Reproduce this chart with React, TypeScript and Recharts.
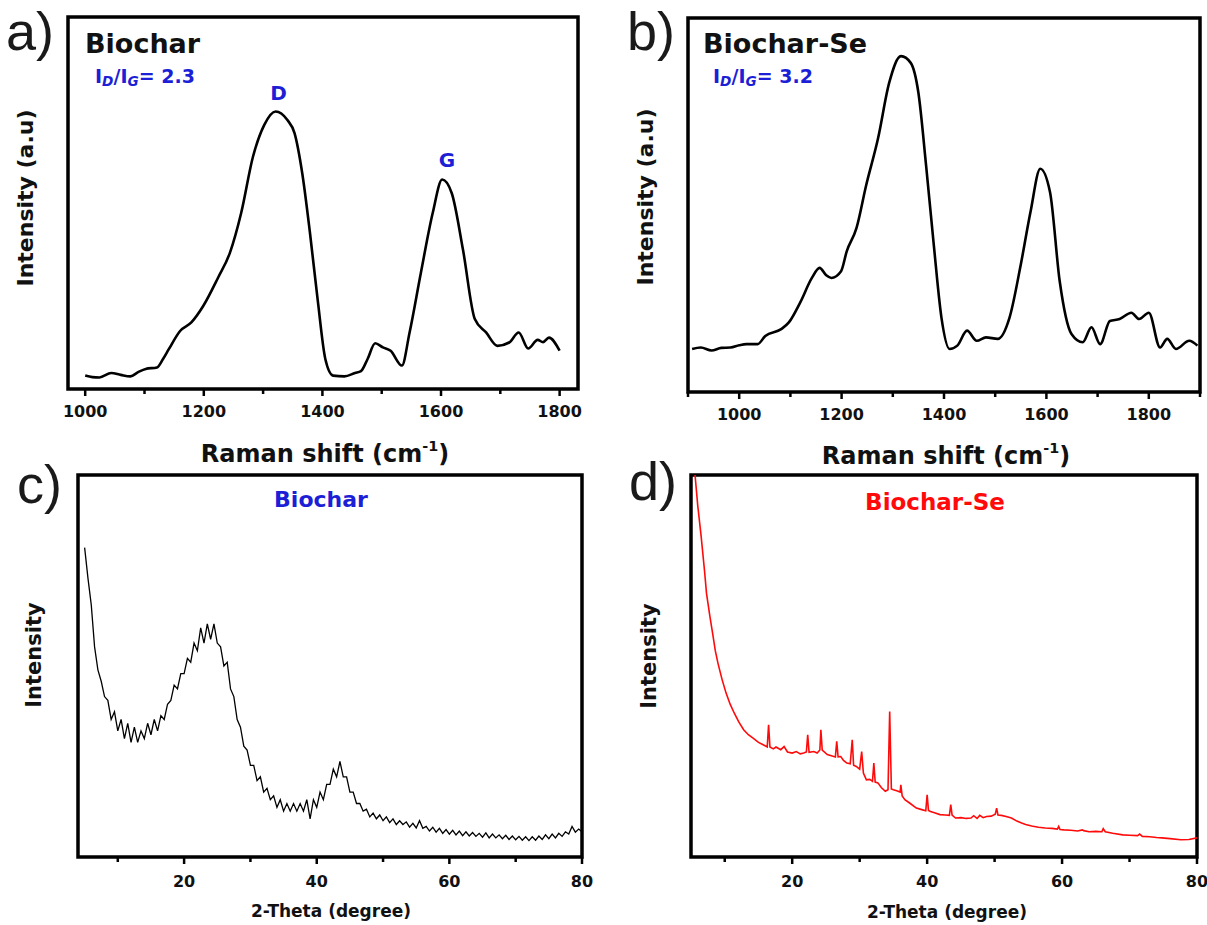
import React from 'react'
import { LineChart, Line, XAxis, YAxis, ReferenceArea, ReferenceDot } from 'recharts'

// a) Raman, Biochar: [shift cm-1, intensity % of frame height]
const ramanBiochar: [number, number][] = [
  [1000, 3.6], [1012, 3.2], [1024, 3.1], [1044, 4.3], [1060, 3.8], [1076, 3.4],
  [1090, 4.6], [1102, 5.4], [1121, 5.8], [1131, 8.0], [1141, 10.7], [1160, 15.6],
  [1179, 17.9], [1199, 22.3], [1224, 29.9], [1244, 36.6], [1263, 47.3], [1283, 62.5],
  [1302, 71.0], [1321, 74.6], [1341, 72.3], [1353, 68.8], [1366, 58.0], [1379, 42.0],
  [1392, 24.0], [1405, 8.0], [1418, 3.6], [1437, 3.4], [1455, 4.3], [1465, 4.8],
  [1476, 8.0], [1489, 12.3], [1502, 11.2], [1515, 10.3], [1534, 6.3], [1547, 15.2],
  [1566, 31.2], [1586, 47.3], [1602, 56.3], [1618, 52.7], [1637, 37.5], [1657, 18.8],
  [1676, 15.2], [1695, 11.6], [1715, 12.5], [1731, 15.2], [1747, 10.9], [1763, 13.2],
  [1772, 12.6], [1782, 13.8], [1800, 10.3],
]

// b) Raman, Biochar-Se
const ramanBiocharSe: [number, number][] = [
  [908, 11.5], [925, 11.9], [946, 11.1], [965, 11.8], [983, 11.9], [1000, 12.5],
  [1014, 12.8], [1036, 12.8], [1051, 15.0], [1082, 16.8], [1097, 18.6], [1119, 23.9],
  [1142, 30.5], [1157, 33.2], [1170, 31.2], [1180, 30.5], [1199, 32.3], [1210, 37.6],
  [1229, 43.8], [1248, 55.3], [1271, 67.7], [1293, 82.7], [1316, 89.8], [1335, 88.0],
  [1350, 80.0], [1365, 60.6], [1380, 39.4], [1395, 19.9], [1411, 11.5], [1426, 12.4],
  [1445, 16.4], [1464, 13.7], [1482, 14.6], [1505, 14.2], [1528, 19.9], [1550, 34.1],
  [1569, 48.2], [1588, 59.7], [1607, 53.5], [1626, 29.6], [1649, 15.5], [1671, 13.3],
  [1688, 17.3], [1705, 12.8], [1724, 19.0], [1743, 19.5], [1766, 21.2], [1781, 19.5],
  [1800, 21.2], [1822, 11.9], [1836, 14.2], [1853, 11.5], [1879, 13.7], [1895, 12.4],
]

// c) XRD, Biochar: sampled every 0.5 deg from 5 deg
const xrdBiocharStart = 5
const xrdBiocharStep = 0.5
const xrdBiochar = [
  81, 73, 66, 55, 49, 46, 42, 41, 36, 38,
  33, 36, 31, 35, 30, 34, 30, 33, 31, 35,
  32, 36, 33, 37, 36, 40, 41, 45, 44, 48,
  48, 52, 51, 56, 54, 60, 56, 61, 57, 61,
  56, 55, 50, 51, 44, 42, 36, 34, 29, 28,
  24, 24, 20, 21, 17, 18, 15, 16, 13, 15,
  12, 14, 12, 14, 12, 14, 12, 15, 10, 15,
  13, 17, 15, 19, 19, 23, 21, 25, 21, 21,
  17, 17, 14, 14, 12, 12.5, 10.5, 11.5, 10, 11,
  9.5, 10.5, 9, 10, 8.5, 9.5, 8.5, 9.2, 7.8, 8.8,
  7.6, 9.5, 7.5, 8, 6.8, 7.8, 6.5, 7.5, 6.2, 7.2,
  6, 7, 5.8, 6.8, 5.6, 6.6, 5.5, 6.4, 5.4, 6.2,
  5.2, 6.3, 5, 6, 5, 5.8, 4.8, 5.7, 4.6, 5.5,
  4.5, 5.4, 4.4, 5.3, 4.3, 5.3, 4.4, 5.5, 4.6, 5.8,
  4.8, 6, 5, 6.2, 5.4, 6.6, 6, 8, 6.5, 7.3,
  6.6,
]

// d) XRD, Biochar-Se: [2theta, intensity]
const xrdBiocharSe: [number, number][] = [
  [5.6, 100], [6.0, 92], [6.5, 84], [7.0, 75], [7.3, 69], [7.8, 63], [8.2, 58.6],
  [8.6, 54], [9.0, 50.7], [9.6, 46.5], [10.2, 42.9], [10.8, 40], [11.4, 37.7],
  [12.1, 35.3], [12.8, 33.3], [13.5, 32.0], [14.2, 31.1], [15.0, 30], [15.7, 29.4],
  [16.3, 28.8], [16.5, 34.6], [16.7, 28.8], [17.2, 28.3], [17.6, 28.8], [18.3, 28.1],
  [18.8, 28.9], [19.3, 27.5], [20.0, 27.2], [20.6, 27.6], [21.2, 27.0], [21.7, 27.2],
  [22.1, 27.5], [22.3, 32], [22.5, 27.4], [23.2, 27.6], [23.7, 27.2], [24.1, 28.0],
  [24.25, 33.3], [24.45, 28], [25.2, 26.8], [25.8, 26.5], [26.4, 26.2], [26.6, 30.3],
  [26.8, 26.2], [27.2, 26.3], [27.6, 25.3], [28.1, 24.6], [28.6, 24.4], [28.9, 30.7],
  [29.1, 24], [29.5, 23.7], [30.0, 23.0], [30.3, 27.6], [30.55, 22.0], [31.0, 20.2],
  [31.5, 20.3], [31.9, 19.8], [32.1, 24.6], [32.3, 19.6], [32.7, 19.4], [33.2, 18.2],
  [33.8, 17.2], [34.2, 17.6], [34.45, 38.1], [34.7, 17.8], [35.0, 17.6], [35.6, 17.3],
  [36.0, 17.0], [36.1, 18.9], [36.3, 16.0], [36.7, 15], [37.5, 14], [38.4, 12.8],
  [39.2, 12.4], [39.8, 12.1], [40.0, 16.3], [40.2, 12.2], [40.5, 11.9], [41.2, 11.5],
  [41.9, 11.1], [42.7, 11], [43.3, 10.9], [43.5, 13.7], [43.7, 11], [44.2, 10.2],
  [45.0, 10.3], [45.8, 10.1], [46.5, 10.2], [46.9, 10.8], [47.4, 10.1], [47.8, 10.9],
  [48.3, 10.3], [48.8, 10.6], [49.5, 10.7], [50.1, 11.2], [50.3, 12.8], [50.5, 11.0],
  [51.0, 10.9], [51.7, 10.6], [52.5, 10.2], [53.3, 9.4], [54.0, 8.9], [54.6, 8.5],
  [55.5, 8.1], [56.5, 7.8], [57.5, 7.6], [58.5, 7.5], [59.3, 7.3], [59.5, 8.0],
  [59.7, 7.2], [60.3, 7.1], [61.3, 7.0], [62.3, 6.8], [63.0, 7.1], [63.2, 6.9],
  [64.0, 6.6], [65.0, 6.7], [65.9, 6.6], [66.1, 7.4], [66.4, 6.6], [67.5, 6.2],
  [69.0, 5.8], [70.0, 5.7], [71.2, 5.6], [71.5, 6.0], [71.9, 5.4], [73.0, 5.3],
  [74.0, 5.1], [74.8, 5.0], [76.0, 4.8], [77.6, 4.5], [78.8, 4.6], [80.0, 5.0],
]

const ramanTicksA = [1000, 1100, 1200, 1300, 1400, 1500, 1600, 1700, 1800]
const ramanTicksB = [900, 1000, 1100, 1200, 1300, 1400, 1500, 1600, 1700, 1800, 1900]
const thetaTicks = [10, 20, 30, 40, 50, 60, 70, 80]

const BOLD = '"DejaVu Sans", "Liberation Sans", sans-serif'
const PLAIN = '"Liberation Sans", Arial, sans-serif'
const BLUE = '#1c1fd6'
const RED = '#ff0a0a'
const AXIS_H = 30

const toRows = (pairs: [number, number][]) => pairs.map(([x, y]) => ({ x, y }))

const makeTick = (majorStep: number, fontSize: number, labelDy: number) => (props: any) => {
  const { x, y, payload } = props
  const major = payload.value % majorStep === 0
  return (
    <g>
      <line x1={x} x2={x} y1={y} y2={y + (major ? 7 : 5)} stroke="#000" strokeWidth={2.5} />
      {major && (
        <text x={x} y={y + labelDy} textAnchor="middle" fontFamily={BOLD} fontWeight={700}
          fontSize={fontSize} fill="#111">{payload.value}</text>
      )}
    </g>
  )
}

interface PanelProps {
  left: number
  top: number
  width: number
  height: number
  box: { l: number; t: number; r: number; b: number }
  data: { x: number; y: number }[]
  domain: [number, number]
  ticks: number[]
  majorStep: number
  labelDy: number
  stroke: string
  strokeWidth: number
  curve: 'monotone' | 'linear'
  children?: React.ReactNode
}

const Panel = (p: PanelProps) => (
  <div style={{ position: 'absolute', left: p.left, top: p.top }}>
    <LineChart
      width={p.width}
      height={p.height}
      data={p.data}
      margin={{
        left: p.box.l - p.left,
        top: p.box.t - p.top,
        right: p.left + p.width - p.box.r,
        bottom: p.top + p.height - p.box.b - AXIS_H,
      }}
    >
      <XAxis type="number" dataKey="x" domain={p.domain} allowDataOverflow ticks={p.ticks}
        interval={0} height={AXIS_H} tickSize={0} tickMargin={0} axisLine={false} tickLine={false}
        tick={makeTick(p.majorStep, 16, p.labelDy)} />
      <YAxis type="number" domain={[0, 100]} allowDataOverflow hide />
      <Line type={p.curve} dataKey="y" stroke={p.stroke} strokeWidth={p.strokeWidth}
        dot={false} isAnimationActive={false} />
      <ReferenceArea x1={p.domain[0]} x2={p.domain[1]} y1={0} y2={100} fill="none"
        fillOpacity={0} stroke="#000" strokeWidth={3.5} ifOverflow="visible" />
      {p.children}
    </LineChart>
  </div>
)

const Txt = ({ x, y, size, color = '#111', weight = 700, font = BOLD, center = false, children }: any) => (
  <div style={{
    position: 'absolute', left: x, top: y - 0.846 * size, fontSize: size, lineHeight: 1,
    fontFamily: font, fontWeight: weight, color, whiteSpace: 'nowrap',
    transform: center ? 'translateX(-50%)' : undefined,
  }}>{children}</div>
)

const VLabel = ({ cx, cy, size, children }: any) => (
  <div style={{
    position: 'absolute', left: cx, top: cy, fontSize: size, lineHeight: 1,
    fontFamily: BOLD, fontWeight: 700, color: '#111', whiteSpace: 'nowrap',
    transform: 'translate(-50%, -50%) rotate(-90deg)',
  }}>{children}</div>
)

const Ratio = ({ value }: { value: string }) => (
  <span>
    I<sub style={{ fontSize: '0.72em', fontStyle: 'italic', verticalAlign: '-0.25em' }}>D</sub>/I
    <sub style={{ fontSize: '0.72em', fontStyle: 'italic', verticalAlign: '-0.25em' }}>G</sub>= {value}
  </span>
)

const CmLabel = () => (
  <span>Raman shift (cm<sup style={{ fontSize: '0.6em', verticalAlign: '0.75em' }}>-1</sup>)</span>
)

const peakLabel = (value: string) => ({
  value, position: 'center' as const, fill: BLUE, fontSize: 20, fontWeight: 700, fontFamily: BOLD,
})

export default function App() {
  const dataC = xrdBiochar.map((y, i) => ({ x: xrdBiocharStart + i * xrdBiocharStep, y }))
  return (
    <div style={{ position: 'absolute', left: 0, top: 0, width: 1207, height: 925, background: '#fff', overflow: 'hidden' }}>
      <Panel left={0} top={0} width={603} height={462} box={{ l: 68, t: 17, r: 578, b: 389 }}
        data={toRows(ramanBiochar)} domain={[971, 1831]} ticks={ramanTicksA} majorStep={200}
        labelDy={28} stroke="#000" strokeWidth={2.6} curve="monotone">
        <ReferenceDot x={1326} y={79.7} r={0} fill="none" stroke="none" label={peakLabel('D')} />
        <ReferenceDot x={1610} y={61.7} r={0} fill="none" stroke="none" label={peakLabel('G')} />
      </Panel>
      <Panel left={603} top={0} width={604} height={462} box={{ l: 688, t: 18, r: 1200, b: 392 }}
        data={toRows(ramanBiocharSe)} domain={[900, 1900]} ticks={ramanTicksB} majorStep={200}
        labelDy={28} stroke="#000" strokeWidth={2.6} curve="monotone" />
      <Panel left={0} top={462} width={603} height={463} box={{ l: 78, t: 475, r: 582, b: 857 }}
        data={dataC} domain={[4, 80]} ticks={thetaTicks} majorStep={20}
        labelDy={30} stroke="#000" strokeWidth={1.3} curve="linear" />
      <Panel left={603} top={462} width={604} height={463} box={{ l: 691, t: 475, r: 1197, b: 857 }}
        data={toRows(xrdBiocharSe)} domain={[5, 80]} ticks={thetaTicks} majorStep={20}
        labelDy={30} stroke={RED} strokeWidth={1.6} curve="linear" />

      <Txt x={6} y={50} size={54} weight={400} font={PLAIN} color="#1a1a1a">a)</Txt>
      <Txt x={627} y={50} size={54} weight={400} font={PLAIN} color="#1a1a1a">b)</Txt>
      <Txt x={17} y={503} size={54} weight={400} font={PLAIN} color="#1a1a1a">c)</Txt>
      <Txt x={629} y={500} size={54} weight={400} font={PLAIN} color="#1a1a1a">d)</Txt>

      <Txt x={85} y={53} size={27}>Biochar</Txt>
      <Txt x={703} y={53} size={27}>Biochar-Se</Txt>
      <Txt x={95} y={83} size={19} color={BLUE}><Ratio value="2.3" /></Txt>
      <Txt x={713} y={83} size={19} color={BLUE}><Ratio value="3.2" /></Txt>
      <Txt x={321} y={508} size={22} color={BLUE} center>Biochar</Txt>
      <Txt x={935} y={510} size={23} color={RED} center>Biochar-Se</Txt>

      <VLabel cx={26} cy={198} size={22}>Intensity (a.u)</VLabel>
      <VLabel cx={646} cy={197} size={22}>Intensity (a.u)</VLabel>
      <VLabel cx={34} cy={655} size={21}>Intensity</VLabel>
      <VLabel cx={649} cy={656} size={21}>Intensity</VLabel>

      <Txt x={325} y={460} size={24} center><CmLabel /></Txt>
      <Txt x={946} y={462} size={24} center><CmLabel /></Txt>
      <Txt x={331} y={917} size={17} center>2-Theta (degree)</Txt>
      <Txt x={947} y={918} size={17} center>2-Theta (degree)</Txt>
    </div>
  )
}
